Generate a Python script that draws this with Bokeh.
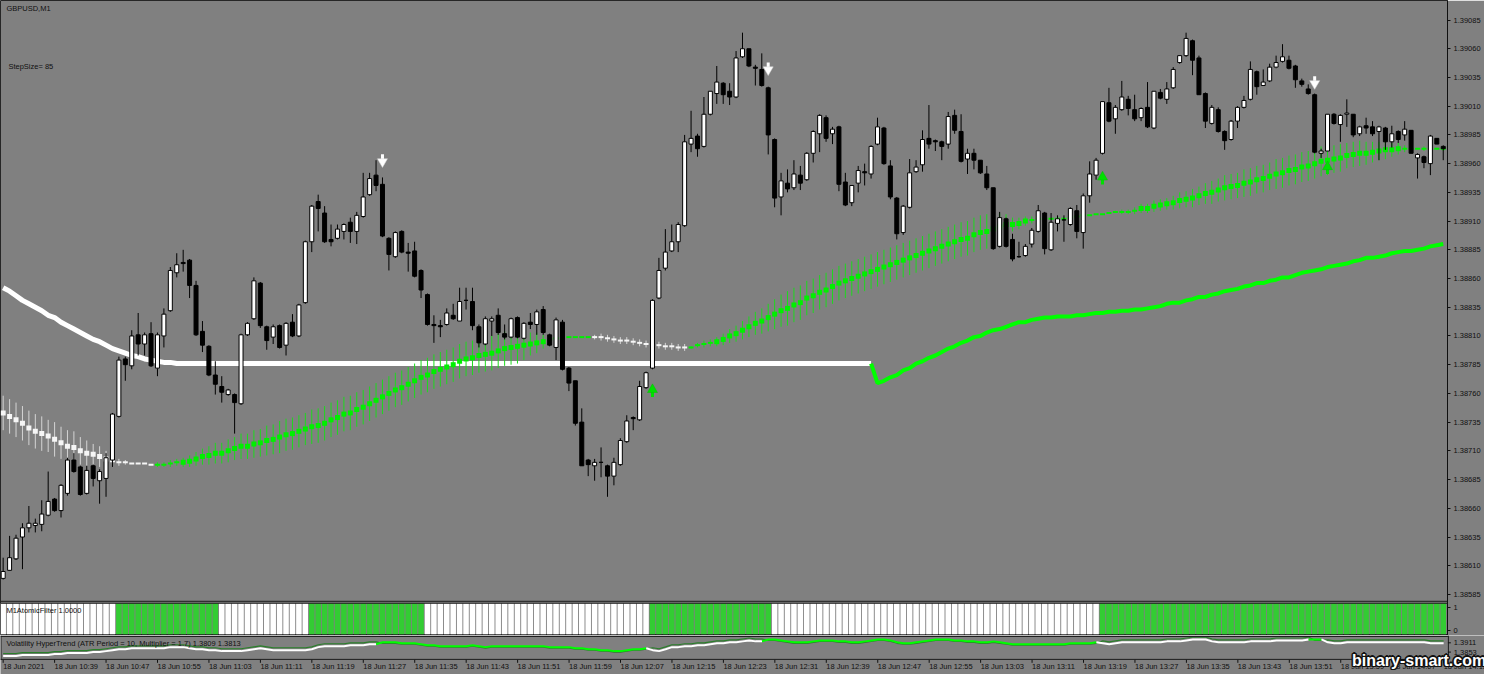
import numpy as np
from bokeh.plotting import figure
from bokeh.layouts import column
from bokeh.models import Range1d, FixedTicker, CustomJSTickFormatter
from bokeh.embed import file_html
from bokeh.resources import INLINE
from bokeh.core.properties import value

# ---------------- texts ----------------
symbol_title = "GBPUSD,M1"
step_text = "StepSize= 85"
atf_title = "M1AtomicFilter 1.0000"
ht_title = "Volatility HyperTrend (ATR Period = 10, Multiplier = 1.7) 1.3809 1.3813"
watermark = "binary-smart.com"

# ---------------- candles (GBPUSD M1, 10:31 .. 14:15) ----------------
open_ = [
 1.38599, 1.38606, 1.38616, 1.38635, 1.38643, 1.38645, 1.38646, 1.38654, 1.38668, 1.38658,
 1.38673, 1.38702, 1.38696, 1.38673, 1.38697, 1.38684, 1.38686, 1.38702, 1.38740, 1.38790,
 1.38784, 1.38811, 1.38803, 1.38812, 1.38782, 1.38810, 1.38832, 1.38865, 1.38874, 1.38876,
 1.38854, 1.38814, 1.38801, 1.38776, 1.38766, 1.38759, 1.38759, 1.38751, 1.38811, 1.38825,
 1.38856, 1.38818, 1.38809, 1.38819, 1.38802, 1.38822, 1.38810, 1.38839, 1.38892, 1.38927,
 1.38917, 1.38894, 1.38895, 1.38901, 1.38909, 1.38901, 1.38914, 1.38933, 1.38950, 1.38942,
 1.38895, 1.38879, 1.38901, 1.38883, 1.38884, 1.38867, 1.38846, 1.38820, 1.38819, 1.38820,
 1.38828, 1.38823, 1.38841, 1.38840, 1.38818, 1.38803, 1.38823, 1.38828, 1.38812, 1.38809,
 1.38826, 1.38808, 1.38822, 1.38820, 1.38833, 1.38811, 1.38800, 1.38822, 1.38782, 1.38771,
 1.38735, 1.38702, 1.38697, 1.38700, 1.38697, 1.38688, 1.38698, 1.38718, 1.38739, 1.38737,
 1.38765, 1.38782, 1.38843, 1.38869, 1.38884, 1.38892, 1.38906, 1.38977, 1.38984, 1.38975,
 1.39003, 1.39021, 1.39030, 1.39023, 1.39018, 1.39053, 1.39060, 1.39044, 1.39042, 1.39026,
 1.38981, 1.38931, 1.38943, 1.38939, 1.38950, 1.38946, 1.38969, 1.38986, 1.39000, 1.38986,
 1.38992, 1.38944, 1.38926, 1.38943, 1.38953, 1.38951, 1.38977, 1.38991, 1.38958, 1.38930,
 1.38900, 1.38922, 1.38953, 1.38959, 1.38982, 1.38980, 1.38979, 1.38977, 1.39002, 1.38988,
 1.38964, 1.38969, 1.38963, 1.38951, 1.38939, 1.38888, 1.38912, 1.38894, 1.38879, 1.38880,
 1.38890, 1.38901, 1.38917, 1.38885, 1.38908, 1.38911, 1.38907, 1.38919, 1.38900, 1.38932,
 1.38950, 1.38969, 1.39013, 1.38999, 1.39007, 1.39016, 1.39007, 1.39000, 1.39009, 1.38991,
 1.39022, 1.39016, 1.39026, 1.39048, 1.39054, 1.39067, 1.39052, 1.39021, 1.38995, 1.39007,
 1.38988, 1.38981, 1.38997, 1.39009, 1.39016, 1.39040, 1.39028, 1.39032, 1.39044, 1.39049,
 1.39050, 1.39045, 1.39032, 1.39025, 1.39020, 1.38969, 1.38971, 1.39003, 1.38994, 1.39003,
 1.39003, 1.38986, 1.38993, 1.38992, 1.38988, 1.38991, 1.38979, 1.38988, 1.38985, 1.38989,
 1.38965, 1.38966, 1.38960, 1.38982, 1.38975]
high = [
 1.38617, 1.38636, 1.38637, 1.38647, 1.38662, 1.38651, 1.38667, 1.38692, 1.38669, 1.38681,
 1.38704, 1.38708, 1.38697, 1.38697, 1.38698, 1.38694, 1.38708, 1.38743, 1.38792, 1.38792,
 1.38815, 1.38830, 1.38813, 1.38822, 1.38813, 1.38834, 1.38870, 1.38882, 1.38885, 1.38877,
 1.38858, 1.38823, 1.38802, 1.38788, 1.38775, 1.38764, 1.38760, 1.38812, 1.38822, 1.38861,
 1.38857, 1.38819, 1.38820, 1.38820, 1.38822, 1.38829, 1.38838, 1.38893, 1.38924, 1.38933,
 1.38923, 1.38907, 1.38907, 1.38908, 1.38913, 1.38918, 1.38952, 1.38952, 1.38963, 1.38948,
 1.38896, 1.38901, 1.38902, 1.38891, 1.38892, 1.38868, 1.38847, 1.38828, 1.38824, 1.38834,
 1.38838, 1.38852, 1.38852, 1.38852, 1.38820, 1.38827, 1.38827, 1.38834, 1.38820, 1.38826,
 1.38827, 1.38822, 1.38830, 1.38833, 1.38836, 1.38812, 1.38826, 1.38824, 1.38783, 1.38771,
 1.38747, 1.38703, 1.38703, 1.38713, 1.38698, 1.38704, 1.38721, 1.38741, 1.38740, 1.38771,
 1.38779, 1.38842, 1.38878, 1.38903, 1.38907, 1.38909, 1.38985, 1.39006, 1.38986, 1.39018,
 1.39023, 1.39045, 1.39031, 1.39030, 1.39058, 1.39074, 1.39060, 1.39046, 1.39056, 1.39027,
 1.38982, 1.38952, 1.38955, 1.38963, 1.38958, 1.38970, 1.38989, 1.39003, 1.39002, 1.38992,
 1.38993, 1.38952, 1.38941, 1.38958, 1.38960, 1.38976, 1.39000, 1.38992, 1.38963, 1.38931,
 1.38924, 1.38964, 1.38963, 1.38989, 1.39011, 1.38981, 1.38980, 1.39005, 1.39007, 1.39003,
 1.38973, 1.38973, 1.38963, 1.38958, 1.38939, 1.38918, 1.38913, 1.38899, 1.38892, 1.38890,
 1.38904, 1.38924, 1.38918, 1.38917, 1.38915, 1.38915, 1.38922, 1.38924, 1.38934, 1.38962,
 1.38965, 1.39014, 1.39026, 1.39011, 1.39032, 1.39019, 1.39020, 1.39009, 1.39031, 1.39023,
 1.39025, 1.39031, 1.39044, 1.39054, 1.39074, 1.39068, 1.39054, 1.39022, 1.39011, 1.39009,
 1.38989, 1.38998, 1.39010, 1.39019, 1.39049, 1.39041, 1.39042, 1.39047, 1.39054, 1.39064,
 1.39054, 1.39046, 1.39034, 1.39029, 1.39021, 1.38973, 1.39003, 1.39004, 1.39003, 1.39016,
 1.39003, 1.38993, 1.39000, 1.38997, 1.38993, 1.38992, 1.38993, 1.38989, 1.38997, 1.38989,
 1.38969, 1.38967, 1.38985, 1.38982, 1.38976]
low = [
 1.38598, 1.38606, 1.38615, 1.38607, 1.38639, 1.38639, 1.38640, 1.38653, 1.38657, 1.38652,
 1.38671, 1.38691, 1.38671, 1.38672, 1.38679, 1.38664, 1.38670, 1.38696, 1.38739, 1.38771,
 1.38781, 1.38793, 1.38793, 1.38783, 1.38775, 1.38800, 1.38831, 1.38861, 1.38866, 1.38843,
 1.38810, 1.38796, 1.38775, 1.38759, 1.38752, 1.38758, 1.38725, 1.38750, 1.38810, 1.38824,
 1.38817, 1.38798, 1.38803, 1.38799, 1.38793, 1.38809, 1.38809, 1.38838, 1.38883, 1.38901,
 1.38891, 1.38888, 1.38894, 1.38894, 1.38891, 1.38890, 1.38913, 1.38932, 1.38936, 1.38896,
 1.38867, 1.38878, 1.38882, 1.38866, 1.38861, 1.38843, 1.38819, 1.38804, 1.38809, 1.38819,
 1.38824, 1.38823, 1.38833, 1.38815, 1.38800, 1.38802, 1.38810, 1.38811, 1.38807, 1.38808,
 1.38808, 1.38807, 1.38816, 1.38811, 1.38811, 1.38801, 1.38789, 1.38780, 1.38762, 1.38732,
 1.38697, 1.38688, 1.38684, 1.38687, 1.38670, 1.38680, 1.38697, 1.38717, 1.38728, 1.38736,
 1.38764, 1.38781, 1.38842, 1.38867, 1.38883, 1.38883, 1.38905, 1.38970, 1.38966, 1.38974,
 1.39002, 1.39012, 1.39012, 1.39011, 1.39017, 1.39052, 1.39044, 1.39028, 1.39027, 1.38968,
 1.38922, 1.38915, 1.38935, 1.38937, 1.38937, 1.38945, 1.38961, 1.38970, 1.38979, 1.38977,
 1.38936, 1.38923, 1.38923, 1.38935, 1.38941, 1.38947, 1.38976, 1.38959, 1.38929, 1.38894,
 1.38898, 1.38921, 1.38952, 1.38953, 1.38973, 1.38971, 1.38963, 1.38973, 1.38986, 1.38961,
 1.38951, 1.38955, 1.38951, 1.38937, 1.38885, 1.38887, 1.38887, 1.38875, 1.38878, 1.38879,
 1.38887, 1.38900, 1.38881, 1.38884, 1.38901, 1.38892, 1.38906, 1.38895, 1.38886, 1.38926,
 1.38946, 1.38968, 1.38996, 1.38986, 1.39006, 1.39002, 1.38997, 1.38997, 1.38991, 1.38990,
 1.39016, 1.39012, 1.39025, 1.39047, 1.39053, 1.39037, 1.39020, 1.38991, 1.38994, 1.38987,
 1.38972, 1.38980, 1.38991, 1.39008, 1.39015, 1.39020, 1.39028, 1.39031, 1.39043, 1.39048,
 1.39042, 1.39026, 1.39027, 1.39020, 1.38969, 1.38965, 1.38971, 1.38994, 1.38979, 1.38992,
 1.38983, 1.38984, 1.38986, 1.38984, 1.38963, 1.38972, 1.38974, 1.38978, 1.38980, 1.38969,
 1.38947, 1.38956, 1.38950, 1.38977, 1.38963]
close = [
 1.38605, 1.38617, 1.38634, 1.38643, 1.38647, 1.38647, 1.38655, 1.38666, 1.38658, 1.38680,
 1.38702, 1.38692, 1.38672, 1.38693, 1.38686, 1.38692, 1.38704, 1.38742, 1.38789, 1.38785,
 1.38810, 1.38803, 1.38811, 1.38784, 1.38811, 1.38829, 1.38867, 1.38872, 1.38873, 1.38854,
 1.38811, 1.38802, 1.38776, 1.38768, 1.38761, 1.38763, 1.38752, 1.38811, 1.38821, 1.38858,
 1.38819, 1.38806, 1.38818, 1.38800, 1.38821, 1.38810, 1.38837, 1.38892, 1.38923, 1.38921,
 1.38892, 1.38892, 1.38903, 1.38907, 1.38901, 1.38915, 1.38931, 1.38947, 1.38941, 1.38897,
 1.38881, 1.38900, 1.38883, 1.38882, 1.38862, 1.38850, 1.38820, 1.38819, 1.38818, 1.38830,
 1.38825, 1.38840, 1.38841, 1.38819, 1.38804, 1.38825, 1.38825, 1.38813, 1.38809, 1.38825,
 1.38809, 1.38821, 1.38820, 1.38831, 1.38813, 1.38802, 1.38824, 1.38781, 1.38769, 1.38734,
 1.38697, 1.38698, 1.38700, 1.38700, 1.38688, 1.38700, 1.38719, 1.38736, 1.38738, 1.38766,
 1.38778, 1.38841, 1.38867, 1.38883, 1.38892, 1.38907, 1.38979, 1.38982, 1.38973, 1.39003,
 1.39023, 1.39031, 1.39020, 1.39018, 1.39052, 1.39060, 1.39045, 1.39043, 1.39028, 1.38985,
 1.38930, 1.38945, 1.38938, 1.38951, 1.38943, 1.38969, 1.38988, 1.39002, 1.38982, 1.38990,
 1.38942, 1.38924, 1.38941, 1.38954, 1.38952, 1.38975, 1.38992, 1.38960, 1.38931, 1.38899,
 1.38923, 1.38952, 1.38957, 1.38981, 1.38977, 1.38979, 1.38975, 1.39001, 1.38989, 1.38962,
 1.38969, 1.38963, 1.38952, 1.38939, 1.38886, 1.38913, 1.38888, 1.38877, 1.38879, 1.38888,
 1.38902, 1.38919, 1.38886, 1.38909, 1.38912, 1.38911, 1.38921, 1.38901, 1.38932, 1.38951,
 1.38963, 1.39014, 1.38997, 1.39009, 1.39018, 1.39008, 1.38999, 1.39008, 1.38992, 1.39023,
 1.39017, 1.39025, 1.39042, 1.39054, 1.39069, 1.39050, 1.39020, 1.38997, 1.39009, 1.38988,
 1.38980, 1.38997, 1.39009, 1.39015, 1.39042, 1.39027, 1.39031, 1.39044, 1.39048, 1.39053,
 1.39043, 1.39033, 1.39029, 1.39021, 1.38970, 1.38971, 1.39003, 1.38995, 1.39002, 1.39004,
 1.38985, 1.38992, 1.38991, 1.38986, 1.38992, 1.38979, 1.38986, 1.38981, 1.38990, 1.38969,
 1.38968, 1.38961, 1.38984, 1.38977, 1.38973]

# ---------------- thick trend line (white -> green) ----------------
trend_ma = [
 1.38852, 1.38849, 1.38845, 1.38841, 1.38838, 1.38835, 1.38832, 1.38828, 1.38826, 1.38822,
 1.38819, 1.38816, 1.38813, 1.38810, 1.38807, 1.38805, 1.38802, 1.38799, 1.38797, 1.38795,
 1.38793, 1.38792, 1.38790, 1.38789, 1.38788, 1.38787, 1.38787, 1.38786] + [1.38786] * 108 + [
 1.38769, 1.38771, 1.38774, 1.38776, 1.38780, 1.38782, 1.38786, 1.38788, 1.38791, 1.38793,
 1.38796, 1.38799, 1.38801, 1.38804, 1.38806, 1.38809, 1.38810, 1.38813, 1.38815, 1.38816,
 1.38818, 1.38820, 1.38822, 1.38822, 1.38824, 1.38825, 1.38826, 1.38826, 1.38827, 1.38827,
 1.38827, 1.38828, 1.38828, 1.38829, 1.38830, 1.38830, 1.38831, 1.38831, 1.38832, 1.38832,
 1.38833, 1.38833, 1.38834, 1.38835, 1.38836, 1.38838, 1.38839, 1.38839, 1.38841, 1.38842,
 1.38844, 1.38844, 1.38846, 1.38847, 1.38849, 1.38850, 1.38851, 1.38853, 1.38854, 1.38856,
 1.38856, 1.38858, 1.38859, 1.38861, 1.38861, 1.38863, 1.38865, 1.38866, 1.38867, 1.38868,
 1.38870, 1.38871, 1.38872, 1.38873, 1.38875, 1.38876, 1.38878, 1.38878, 1.38879, 1.38880,
 1.38882, 1.38883, 1.38884, 1.38884, 1.38885, 1.38886, 1.38888, 1.38889, 1.38890]
trend_ma_runs = [("#ffffff", 0, 135, 5), ("#00ff00", 135, 224, 4)]

# ---------------- step indicator (centre + band in points) ----------------
step_mid = [
 1.38743, 1.38740, 1.38737, 1.38734, 1.38730, 1.38727, 1.38725, 1.38723, 1.38720, 1.38717,
 1.38714, 1.38713, 1.38710, 1.38708, 1.38707, 1.38705, 1.38703, 1.38701, 1.38700, 1.38700,
 1.38699, 1.38699, 1.38699, 1.38698, 1.38698, 1.38698, 1.38699, 1.38700, 1.38700, 1.38701,
 1.38703, 1.38705, 1.38706, 1.38708, 1.38708, 1.38710, 1.38712, 1.38714, 1.38714, 1.38716,
 1.38717, 1.38719, 1.38720, 1.38722, 1.38724, 1.38725, 1.38727, 1.38729, 1.38731, 1.38732,
 1.38734, 1.38737, 1.38739, 1.38742, 1.38743, 1.38746, 1.38748, 1.38751, 1.38754, 1.38757,
 1.38760, 1.38763, 1.38765, 1.38768, 1.38771, 1.38774, 1.38776, 1.38779, 1.38781, 1.38783,
 1.38785, 1.38788, 1.38790, 1.38791, 1.38793, 1.38794, 1.38795, 1.38797, 1.38799, 1.38800,
 1.38801, 1.38802, 1.38803, 1.38804, 1.38805, 1.38807, 1.38808, 1.38809, 1.38809, 1.38809,
 1.38809, 1.38809, 1.38809, 1.38809, 1.38808, 1.38807, 1.38806, 1.38806, 1.38805, 1.38804,
 1.38803, 1.38802, 1.38802, 1.38801, 1.38801, 1.38800, 1.38800, 1.38800, 1.38802, 1.38803,
 1.38804, 1.38805, 1.38807, 1.38810, 1.38812, 1.38815, 1.38818, 1.38821, 1.38823, 1.38826,
 1.38829, 1.38832, 1.38834, 1.38837, 1.38839, 1.38843, 1.38845, 1.38848, 1.38850, 1.38853,
 1.38856, 1.38858, 1.38860, 1.38862, 1.38864, 1.38866, 1.38868, 1.38870, 1.38872, 1.38874,
 1.38876, 1.38878, 1.38880, 1.38882, 1.38884, 1.38886, 1.38888, 1.38890, 1.38892, 1.38894,
 1.38895, 1.38898, 1.38900, 1.38901, 1.38903, 1.38905, 1.38907, 1.38907, 1.38908, 1.38910,
 1.38911, 1.38912, 1.38912, 1.38912, 1.38912, 1.38912, 1.38913, 1.38914, 1.38915, 1.38915,
 1.38916, 1.38916, 1.38917, 1.38918, 1.38918, 1.38918, 1.38919, 1.38921, 1.38921, 1.38923,
 1.38924, 1.38925, 1.38926, 1.38928, 1.38929, 1.38930, 1.38932, 1.38934, 1.38935, 1.38937,
 1.38939, 1.38940, 1.38941, 1.38943, 1.38944, 1.38946, 1.38947, 1.38949, 1.38951, 1.38952,
 1.38954, 1.38955, 1.38957, 1.38958, 1.38960, 1.38962, 1.38963, 1.38964, 1.38965, 1.38967,
 1.38968, 1.38969, 1.38969, 1.38970, 1.38971, 1.38972, 1.38972, 1.38973, 1.38973, 1.38973,
 1.38973, 1.38973, 1.38973, 1.38973, 1.38973]
step_band_pts = [
 15, 15, 15, 15, 15, 15, 15, 14, 15, 14,
 14, 14, 12, 11, 9, 9, 7, 3, 3, 2,
 0, 0, 0, 0, 2, 2, 3, 3, 4, 5,
 6, 7, 8, 9, 9, 10, 10, 11, 11, 12,
 12, 13, 13, 14, 14, 14, 14, 14, 15, 15,
 15, 15, 15, 15, 15, 15, 15, 15, 15, 15,
 15, 15, 15, 15, 15, 15, 15, 15, 15, 15,
 15, 15, 15, 15, 15, 15, 15, 15, 15, 15,
 15, 13, 10, 9, 6, 3, 0, 0, 0, 0,
 0, 0, 2, 3, 3, 3, 3, 3, 3, 3,
 3, 3, 3, 3, 3, 3, 3, 1, 2, 3,
 3, 4, 5, 6, 7, 8, 9, 10, 11, 12,
 13, 14, 15, 15, 15, 15, 15, 15, 15, 15,
 15, 15, 15, 15, 15, 15, 15, 15, 15, 15,
 15, 15, 15, 15, 15, 15, 15, 15, 15, 15,
 15, 15, 15, 15, 15, 12, 9, 6, 5, 4,
 3, 0, 0, 0, 0, 0, 0, 0, 0, 0,
 0, 0, 0, 1, 2, 2, 3, 4, 4, 5,
 5, 5, 6, 7, 7, 8, 8, 9, 10, 10,
 11, 11, 11, 12, 12, 12, 12, 12, 13, 13,
 13, 13, 13, 13, 13, 13, 13, 12, 12, 11,
 11, 11, 10, 9, 8, 8, 6, 5, 3, 2,
 0, 2, 0, 0, 2]
step_white_runs = [(0, 23), (92, 106)]

# ---------------- signal arrows ----------------
arrow_down_bars = [59, 119, 204]
arrow_down_price = [1.38963, 1.39043, 1.39031]
arrow_up_bars = [101, 171, 206]
arrow_up_price = [1.38762, 1.38947, 1.38956]

# ---------------- M1AtomicFilter (1 = green state) ----------------
atf_green_runs = [(18, 33), (48, 65), (101, 119), (171, 224)]

# ---------------- Volatility HyperTrend ----------------
ht_line = [
 1.3829, 1.3829, 1.3829, 1.3835, 1.3835, 1.3835, 1.3835, 1.3835, 1.3841, 1.3841,
 1.3847, 1.3847, 1.3847, 1.3847, 1.3853, 1.3853, 1.3859, 1.3865, 1.3871, 1.3871,
 1.3877, 1.3877, 1.3877, 1.3877, 1.3877, 1.3877, 1.3884, 1.3884, 1.3884, 1.3877,
 1.3871, 1.3871, 1.3865, 1.3865, 1.3859, 1.3859, 1.3859, 1.3859, 1.3865, 1.3871,
 1.3877, 1.3871, 1.3865, 1.3865, 1.3865, 1.3865, 1.3865, 1.3865, 1.3871, 1.3884,
 1.3890, 1.3890, 1.3890, 1.3890, 1.3896, 1.3896, 1.3896, 1.3902, 1.3902, 1.3914,
 1.3914, 1.3914, 1.3908, 1.3908, 1.3908, 1.3902, 1.3896, 1.3896, 1.3890, 1.3890,
 1.3890, 1.3890, 1.3890, 1.3896, 1.3890, 1.3884, 1.3890, 1.3890, 1.3890, 1.3890,
 1.3890, 1.3890, 1.3890, 1.3890, 1.3890, 1.3884, 1.3884, 1.3884, 1.3884, 1.3877,
 1.3877, 1.3871, 1.3871, 1.3865, 1.3865, 1.3859, 1.3859, 1.3865, 1.3871, 1.3871,
 1.3877, 1.3865, 1.3859, 1.3871, 1.3884, 1.3884, 1.3890, 1.3890, 1.3896, 1.3896,
 1.3902, 1.3908, 1.3908, 1.3914, 1.3914, 1.3920, 1.3926, 1.3920, 1.3920, 1.3932,
 1.3932, 1.3926, 1.3920, 1.3914, 1.3914, 1.3914, 1.3920, 1.3926, 1.3926, 1.3926,
 1.3920, 1.3920, 1.3914, 1.3914, 1.3920, 1.3926, 1.3932, 1.3932, 1.3926, 1.3914,
 1.3908, 1.3908, 1.3914, 1.3920, 1.3926, 1.3932, 1.3932, 1.3932, 1.3926, 1.3926,
 1.3920, 1.3920, 1.3914, 1.3914, 1.3920, 1.3914, 1.3908, 1.3902, 1.3902, 1.3902,
 1.3902, 1.3902, 1.3902, 1.3902, 1.3902, 1.3902, 1.3908, 1.3908, 1.3908, 1.3908,
 1.3914, 1.3908, 1.3902, 1.3908, 1.3914, 1.3914, 1.3914, 1.3914, 1.3914, 1.3914,
 1.3914, 1.3920, 1.3920, 1.3920, 1.3926, 1.3932, 1.3932, 1.3932, 1.3920, 1.3914,
 1.3914, 1.3914, 1.3914, 1.3914, 1.3920, 1.3920, 1.3920, 1.3920, 1.3926, 1.3926,
 1.3926, 1.3926, 1.3926, 1.3932, 1.3932, 1.3932, 1.3914, 1.3908, 1.3908, 1.3914,
 1.3914, 1.3914, 1.3914, 1.3914, 1.3914, 1.3914, 1.3914, 1.3914, 1.3914, 1.3914,
 1.3914, 1.3914, 1.3908, 1.3908, 1.3908]
ht_band = [
 1.3844, 1.3844, 1.3844, 1.3850, 1.3850, 1.3850, 1.3850, 1.3850, 1.3856, 1.3856,
 1.3862, 1.3862, 1.3862, 1.3862, 1.3868, 1.3868, 1.3874, 1.3880, 1.3886, 1.3886,
 1.3892, 1.3892, 1.3892, 1.3892, 1.3892, 1.3892, 1.3899, 1.3899, 1.3899, 1.3892,
 1.3886, 1.3886, 1.3880, 1.3880, 1.3874, 1.3874, 1.3874, 1.3874, 1.3880, 1.3886,
 1.3892, 1.3886, 1.3880, 1.3880, 1.3880, 1.3880, 1.3880, 1.3880, 1.3886, 1.3899,
 1.3905, 1.3905, 1.3905, 1.3905, 1.3911, 1.3911, 1.3911, 1.3917, 1.3917, 1.3908,
 1.3908, 1.3908, 1.3902, 1.3902, 1.3902, 1.3896, 1.3890, 1.3890, 1.3884, 1.3884,
 1.3884, 1.3884, 1.3884, 1.3890, 1.3884, 1.3878, 1.3884, 1.3884, 1.3884, 1.3884,
 1.3884, 1.3884, 1.3884, 1.3884, 1.3884, 1.3878, 1.3878, 1.3878, 1.3878, 1.3871,
 1.3871, 1.3865, 1.3865, 1.3859, 1.3859, 1.3853, 1.3853, 1.3859, 1.3865, 1.3865,
 1.3871, 1.3880, 1.3874, 1.3886, 1.3899, 1.3899, 1.3905, 1.3905, 1.3911, 1.3911,
 1.3917, 1.3923, 1.3923, 1.3929, 1.3929, 1.3935, 1.3941, 1.3935, 1.3935, 1.3926,
 1.3926, 1.3920, 1.3914, 1.3908, 1.3908, 1.3908, 1.3914, 1.3920, 1.3920, 1.3920,
 1.3914, 1.3914, 1.3908, 1.3908, 1.3914, 1.3920, 1.3926, 1.3926, 1.3920, 1.3908,
 1.3902, 1.3902, 1.3908, 1.3914, 1.3920, 1.3926, 1.3926, 1.3926, 1.3920, 1.3920,
 1.3914, 1.3914, 1.3908, 1.3908, 1.3914, 1.3908, 1.3902, 1.3896, 1.3896, 1.3896,
 1.3896, 1.3896, 1.3896, 1.3896, 1.3896, 1.3896, 1.3902, 1.3902, 1.3902, 1.3902,
 1.3908, 1.3923, 1.3917, 1.3923, 1.3929, 1.3929, 1.3929, 1.3929, 1.3929, 1.3929,
 1.3929, 1.3935, 1.3935, 1.3935, 1.3941, 1.3947, 1.3947, 1.3947, 1.3935, 1.3929,
 1.3929, 1.3929, 1.3929, 1.3929, 1.3935, 1.3935, 1.3935, 1.3935, 1.3941, 1.3941,
 1.3941, 1.3941, 1.3941, 1.3947, 1.3926, 1.3926, 1.3929, 1.3923, 1.3923, 1.3929,
 1.3929, 1.3929, 1.3929, 1.3929, 1.3929, 1.3929, 1.3929, 1.3929, 1.3929, 1.3929,
 1.3929, 1.3929, 1.3923, 1.3923, 1.3923]
ht_white_runs = [(0, 58), (101, 118), (171, 203), (206, 224)]

# ---------------- axis labels ----------------
price_ticks = [1.38585, 1.38610, 1.38635, 1.38660, 1.38685, 1.38710, 1.38735, 1.38760,
               1.38785, 1.38810, 1.38835, 1.38860, 1.38885, 1.38910, 1.38935, 1.38960,
               1.38985, 1.39010, 1.39035, 1.39060, 1.39085]
atf_tick_labels = ["1", "0"]
ht_ticks = [1.3911, 1.3853]
time_label_bars = [0, 8, 16, 24, 32, 40, 48, 56, 64, 72, 80, 88, 96, 104, 112, 120, 128,
                   136, 144, 152, 160, 168, 176, 184, 192, 200, 208, 216, 224]
time_labels = ["18 Jun 2021", "18 Jun 10:39", "18 Jun 10:47", "18 Jun 10:55", "18 Jun 11:03",
               "18 Jun 11:11", "18 Jun 11:19", "18 Jun 11:27", "18 Jun 11:35", "18 Jun 11:43",
               "18 Jun 11:51", "18 Jun 11:59", "18 Jun 12:07", "18 Jun 12:15", "18 Jun 12:23",
               "18 Jun 12:31", "18 Jun 12:39", "18 Jun 12:47", "18 Jun 12:55", "18 Jun 13:03",
               "18 Jun 13:11", "18 Jun 13:19", "18 Jun 13:27", "18 Jun 13:35", "18 Jun 13:43",
               "18 Jun 13:51", "18 Jun 13:59", "18 Jun 14:07", "18 Jun 14:15"]

# ======================================================================
N = len(close)
for arr in (open_, high, low, close, trend_ma, step_mid, step_band_pts, ht_line, ht_band):
    assert len(arr) == N, len(arr)
idx = np.arange(N)
o, h, l, c = (np.array(a) for a in (open_, high, low, close))

# layout reference (pixel grid of the original screen) -> ranges
REF_W, REF_FULL_W = 1463.0, 1500.0
SPLIT = 650.0           # main+filter window above, hypertrend+time strip below
REF_H = 690.0
SCALE_X = 1447.0 / REF_W
SCALE_Y = 674.0 / REF_H
FW_TOP = 1447
FH_TOP = int(round(SPLIT * SCALE_Y))      # 635
FH_BOT = 674 - FH_TOP                     # 39
PPX = 0.00025 / 29.4           # price per reference pixel in main window
MAIN_TOP = 1.39102
main_rng = Range1d(MAIN_TOP - SPLIT * PPX, MAIN_TOP)
atf_rng = Range1d(-(SPLIT - 649.0) / 32.0, 1.0 + 617.0 / 32.0)
HT_PPX = 0.00061
ht_rng = Range1d(1.3911 - (REF_H - 657.5) * HT_PPX, 1.3911 + (657.5 - SPLIT) * HT_PPX)

FONT = "Liberation Sans"
TXT = "#101010"
BG = "#808080"

# ====================== top figure: price + filter ======================
p = figure(frame_width=FW_TOP, frame_height=FH_TOP,
           x_range=Range1d(-2.7 / 6.5, (REF_W - 2.7) / 6.5), y_range=main_rng,
           x_axis_location=None, y_axis_location="right",
           output_backend="svg", toolbar_location=None, tools="",
           background_fill_color=BG, border_fill_color=BG,
           min_border_left=0, min_border_right=37, min_border_top=0, min_border_bottom=0)
p.extra_x_ranges = {"px": Range1d(0, REF_W)}
p.extra_y_ranges = {"px": Range1d(SPLIT, 0), "atf": atf_rng}
p.grid.visible = False
p.outline_line_color = "#262626"

# ---- sub window 1 : atomic filter ----
atf_color = ["#ffffff"] * N
for s, e in atf_green_runs:
    for i in range(s, e + 1):
        atf_color[i] = "#33cc33"
p.vbar(x=idx, bottom=0, top=1, width=0.86, fill_color=atf_color, line_color=None,
       y_range_name="atf")
sep_y = [615, 617, 649.5]
p.segment(x0=[0] * len(sep_y), x1=[REF_W] * len(sep_y), y0=sep_y, y1=sep_y,
          x_range_name="px", y_range_name="px", line_color="#1c1c1c", line_width=1)

# ---- main : thick trend line ----
ma = np.array(trend_ma)
for col, s, e, w in trend_ma_runs:
    p.line(idx[s:e + 1], ma[s:e + 1], line_color=col, line_width=w)

# ---- main : step indicator ----
mid = np.array(step_mid)
band = np.array(step_band_pts) * 1e-5
is_white = np.zeros(N, dtype=bool)
for s, e in step_white_runs:
    is_white[s:e + 1] = True
wcol = np.where(is_white, "#d4d4d4", "#1ed81e")
mcol = np.where(is_white, "#f6f6f6", "#00f000")
wk = band > 0
p.segment(x0=idx[wk], y0=(mid - band)[wk], x1=idx[wk], y1=(mid + band)[wk],
          line_color=list(wcol[wk]), line_width=1)
sq = band >= 3.5e-5
p.scatter(idx[sq], mid[sq], marker="square", size=5, fill_color=list(mcol[sq]), line_color=None)
p.scatter(idx[~sq], mid[~sq], marker="dash", size=5, line_color=list(mcol[~sq]), line_width=2)

# ---- main : candles ----
bull = c > o
body_top = np.maximum(o, c)
body_bot = np.minimum(o, c)
p.segment(x0=idx, y0=l, x1=idx, y1=h, line_color="#000000", line_width=1)
p.vbar(x=idx, top=body_top, bottom=body_bot, width=0.62,
       fill_color=list(np.where(bull, "#ffffff", "#000000")), line_color="#000000", line_width=1)

# ---- arrows ----
adx = np.array(arrow_down_bars)
ady = np.array(arrow_down_price)
p.segment(x0=adx, y0=ady + 0.5 * PPX, x1=adx, y1=ady + 6 * PPX, line_color="#ffffff", line_width=3)
p.scatter(adx, ady - 1.5 * PPX, marker="inverted_triangle", size=10, fill_color="#ffffff",
          line_color="#d8d8d8", line_width=0.5)
aux = np.array(arrow_up_bars)
auy = np.array(arrow_up_price)
p.segment(x0=aux, y0=auy - 0.5 * PPX, x1=aux, y1=auy - 6 * PPX, line_color="#00e000", line_width=3)
p.scatter(aux, auy + 1.5 * PPX, marker="triangle", size=10, fill_color="#00e000",
          line_color="#00c000", line_width=0.5)

def put_text(fig, x, y, s, **kw):
    opts = dict(text_font=value(FONT), text_font_size="7.5px", text_color=TXT,
                text_baseline="middle", text_align="left")
    opts.update(kw)
    fig.text(x=[x], y=[y], text=[s], x_range_name="px", y_range_name="px", **opts)

put_text(p, 6, 8.5, symbol_title)
put_text(p, 8, 68, step_text)
put_text(p, 6, 624, atf_title)

# ---- right axis (price + filter scale) ----
extra_px = [621.0, 645.0]
extra_main = [MAIN_TOP - yy * PPX for yy in extra_px]
yax = p.yaxis[0]
yax.ticker = FixedTicker(ticks=price_ticks + extra_main)
yax.formatter = CustomJSTickFormatter(args=dict(keys=extra_main, labels=atf_tick_labels), code="""
for (let k = 0; k < keys.length; k++) {
  if (Math.abs(tick - keys[k]) < 1e-9) { return labels[k]; }
}
return tick.toFixed(5);
""")
yax.axis_line_color = TXT
yax.major_tick_line_color = TXT
yax.major_tick_out = 3
yax.major_tick_in = 0
yax.minor_tick_line_color = None
yax.major_label_standoff = 3
yax.major_label_text_font = FONT
yax.major_label_text_font_size = "7.5px"
yax.major_label_text_color = TXT

# ====================== bottom figure: hypertrend + time ======================
q = figure(frame_width=FW_TOP + 37, frame_height=FH_BOT,
           x_range=Range1d(-2.7 / 6.5, (REF_FULL_W - 2.7) / 6.5), y_range=ht_rng,
           x_axis_location=None, y_axis_location=None,
           output_backend="svg", toolbar_location=None, tools="",
           background_fill_color=BG, border_fill_color=BG,
           min_border_left=0, min_border_right=0, min_border_top=0, min_border_bottom=0)
q.extra_x_ranges = {"px": Range1d(0, REF_FULL_W)}
q.extra_y_ranges = {"px": Range1d(REF_H, SPLIT)}
q.grid.visible = False
q.outline_line_color = None

ht_col = ["#00ff00"] * N
for s, e in ht_white_runs:
    for i in range(s, e + 1):
        ht_col[i] = "#ffffff"
q.line(idx, ht_band, line_color="#2a7f2a", line_width=1.2)
runs = []
start = 0
for i in range(1, N + 1):
    if i == N or ht_col[i] != ht_col[start]:
        runs.append((start, i - 1, ht_col[start]))
        start = i
hl = np.array(ht_line)
for s, e, col in runs:
    s0 = max(s - 1, 0)
    q.line(idx[s0:e + 1], hl[s0:e + 1], line_color=col, line_width=2)

# panel frame lines
q.segment(x0=[0, 0], x1=[REF_W, REF_W], y0=[651, 674.5], y1=[651, 674.5],
          x_range_name="px", y_range_name="px", line_color="#1c1c1c", line_width=1)
q.segment(x0=[0.5, REF_W + 0.5], x1=[0.5, REF_W + 0.5], y0=[SPLIT, SPLIT], y1=[675, 675],
          x_range_name="px", y_range_name="px", line_color="#1c1c1c", line_width=1)
# hypertrend scale
q.segment(x0=[REF_W] * len(ht_ticks), x1=[REF_W + 3] * len(ht_ticks), y0=ht_ticks, y1=ht_ticks,
          x_range_name="px", line_color=TXT, line_width=1)
q.text(x=[REF_W + 6] * len(ht_ticks), y=ht_ticks, text=["%.4f" % v for v in ht_ticks],
       x_range_name="px", text_font=value(FONT), text_font_size="7.5px", text_color=TXT,
       text_baseline="middle", text_align="left")
put_text(q, 6, 658, ht_title)

# time axis
q.segment(x0=time_label_bars, x1=time_label_bars, y0=[675] * len(time_label_bars),
          y1=[678] * len(time_label_bars), y_range_name="px", line_color=TXT, line_width=1)
q.text(x=time_label_bars, y=[681.5] * len(time_label_bars), text=time_labels,
       y_range_name="px", text_font=value(FONT), text_font_size="7.5px", text_color=TXT,
       text_baseline="middle", text_align="left")

# watermark
for dx, dy in [(-1.5, 0), (1.5, 0), (0, -1.5), (0, 1.5), (-1.2, -1.2), (1.2, 1.2), (-1.2, 1.2), (1.2, -1.2)]:
    q.text(x=[1366], y=[675.5], text=[watermark], x_range_name="px", y_range_name="px",
           x_offset=dx, y_offset=dy, text_font=value(FONT), text_font_size="16px",
           text_font_style="bold", text_color="#111111", text_baseline="middle", text_align="left")
q.text(x=[1366], y=[675.5], text=[watermark], x_range_name="px", y_range_name="px",
       text_font=value(FONT), text_font_size="16px", text_font_style="bold",
       text_color="#ffffff", text_baseline="middle", text_align="left")

layout = column(p, q, spacing=0)
open("out.html", "w").write(file_html(layout, INLINE))
